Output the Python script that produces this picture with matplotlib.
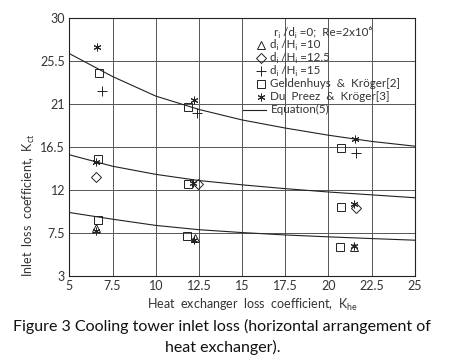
import matplotlib
matplotlib.use("Agg")
import matplotlib.pyplot as plt
from matplotlib.patches import Rectangle

kh_tri = [6.55, 12.27, 21.45]
kct_tri = [8.0, 6.95, 6.0]
kh_dia = [6.52, 12.43, 21.58]
kct_dia = [13.4, 12.6, 10.1]
kh_plus = [6.91, 12.39, 21.58]
kct_plus = [22.4, 20.05, 15.85]
kh_geld = [6.70, 6.65, 6.68, 11.85, 11.85, 11.83, 20.70, 20.70, 20.66]
kct_geld = [24.25, 15.25, 8.85, 20.75, 12.65, 7.20, 16.45, 10.20, 6.05]
kh_dup = [6.58, 6.54, 6.54, 12.23, 12.17, 12.21, 21.53, 21.47, 21.45]
kct_dup = [27.0, 14.95, 7.7, 21.45, 12.7, 6.75, 17.4, 10.55, 6.1]

# equation (5) curves, read at the grid lines
kh_eq = [5, 7.5, 10, 12.5, 15, 17.5, 20, 22.5, 25]
kct_eq_15 = [26.3, 23.9, 21.85, 20.45, 19.35, 18.5, 17.75, 17.1, 16.6]
kct_eq_125 = [15.7, 14.5, 13.65, 13.0, 12.55, 12.15, 11.8, 11.5, 11.2]
kct_eq_10 = [9.65, 8.95, 8.3, 7.85, 7.55, 7.3, 7.1, 6.92, 6.75]

xticks = [5, 7.5, 10, 12.5, 15, 17.5, 20, 22.5, 25]
yticks = [3, 7.5, 12, 16.5, 21, 25.5, 30]

legend_labels = [
    'r\u1d62 /d\u1d62 =0;  Re=2x10\u2076',
    'd\u1d62 /H\u1d62 =10',
    'd\u1d62 /H\u1d62 =12.5',
    'd\u1d62 /H\u1d62 =15',
    'Geldenhuys  &  Kröger[2]',
    'Du  Preez  &  Kröger[3]',
    'Equation(5)',
]

plt.rcParams['font.family'] = ['Lato', 'DejaVu Sans']
plt.rcParams['mathtext.default'] = 'regular'

ink = '#333333'
fig = plt.figure(figsize=(4.49, 3.64), dpi=100)
ax = fig.add_axes([0.1545, 0.2418, 0.7695, 0.7079])

ax.set_xlim(5, 25)
ax.set_ylim(3, 30)
ax.set_xticks(xticks)
ax.set_yticks(yticks)
ax.set_xticklabels([f'{t:g}' for t in xticks])
ax.set_yticklabels([f'{t:g}' for t in yticks])
ax.tick_params(length=0, labelsize=9, colors=ink, pad=3)
ax.grid(True, color='#555555', linewidth=0.7, zorder=0)
ax.set_axisbelow(True)
for s in ax.spines.values():
    s.set_color('#222222')
    s.set_linewidth(0.8)

# the legend area hides the grid in the upper right quarter
ax.add_patch(Rectangle((0.5, 0.5), 0.5, 0.5, transform=ax.transAxes,
                       facecolor='white', edgecolor='none', zorder=0.5))

lw = 0.8
for yy in (kct_eq_15, kct_eq_125, kct_eq_10):
    ax.plot(kh_eq, yy, color='#222222', linewidth=lw, zorder=2)

mk = dict(linestyle='none', color='#222222', markerfacecolor='none', markeredgewidth=0.7, zorder=3)
styles = [None,
          dict(marker='^', markersize=6),
          dict(marker='D', markersize=5.5),
          dict(marker='+', markersize=7),
          dict(marker='s', markersize=6),
          dict(marker=(6, 2, 0), markersize=5.5),
          'line']
ax.plot(kh_tri, kct_tri, **styles[1], **mk)
ax.plot(kh_dia, kct_dia, **styles[2], **mk)
ax.plot(kh_plus, kct_plus, **styles[3], **mk)
ax.plot(kh_geld, kct_geld, **styles[4], **mk)
ax.plot(kh_dup, kct_dup, **styles[5], **mk)

# hand-built legend, rows about 12-13 px apart
row0, step = 0.948, 0.0505
for i, (lab, st) in enumerate(zip(legend_labels, styles)):
    yy = row0 - i * step
    tx = 0.592 if i == 0 else 0.582
    ax.text(tx, yy, lab, transform=ax.transAxes, fontsize=8.4, color=ink,
            ha='left', va='center', zorder=4)
    if st == 'line':
        ax.plot([0.502, 0.568], [yy, yy], transform=ax.transAxes,
                color='#222222', linewidth=lw, zorder=4)
    elif st is not None:
        ax.plot([0.556], [yy], transform=ax.transAxes, **st, **mk)

fig.text(0.065, 0.437, 'Inlet  loss  coefficient,  K$_{ct}$', rotation=90,
         ha='center', va='center', fontsize=9, color=ink)
fig.text(0.562, 0.162, 'Heat  exchanger  loss  coefficient,  K$_{he}$',
         ha='center', va='center', fontsize=9, color=ink)

fig.text(0.495, 0.103, 'Figure 3 Cooling tower inlet loss (horizontal arrangement of',
         ha='center', va='center', fontsize=11.5, color='#111111')
fig.text(0.495, 0.045, 'heat exchanger).',
         ha='center', va='center', fontsize=11.5, color='#111111')

fig.savefig('out.png', dpi=100)
